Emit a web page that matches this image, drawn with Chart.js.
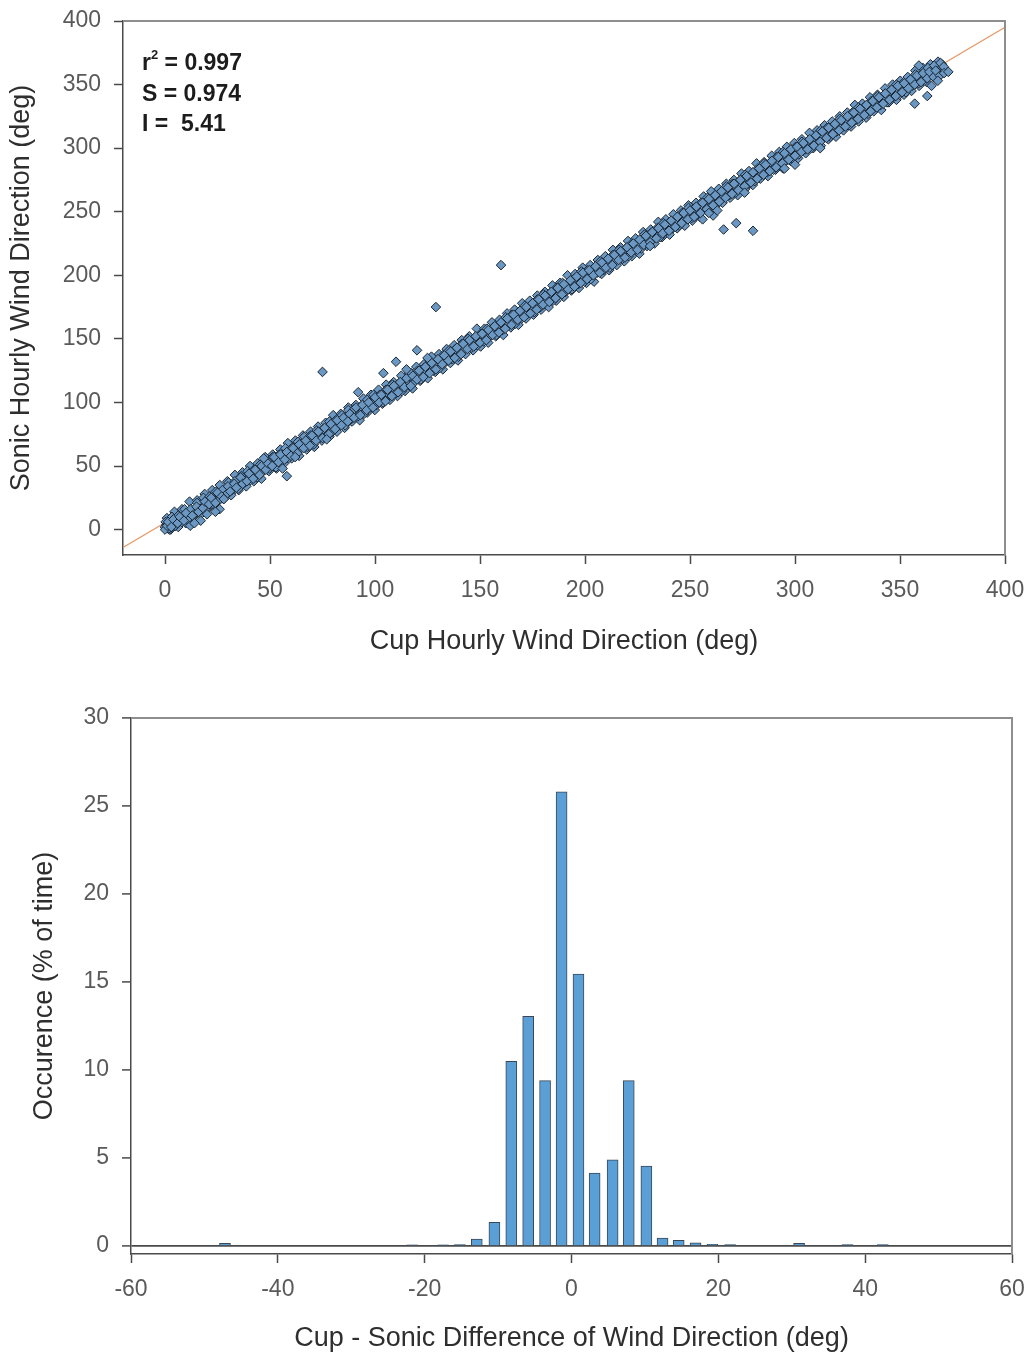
<!DOCTYPE html>
<html>
<head>
<meta charset="utf-8">
<script src="https://cdn.jsdelivr.net/npm/chart.js@4.4.1/dist/chart.umd.min.js"></script>
<style>
  html, body { margin: 0; padding: 0; background: #ffffff; }
  #wrap { position: relative; width: 1031px; height: 1355px; }
  #scatterCanvas { position: absolute; left: 0; top: 0; }
  #histCanvas { position: absolute; left: 0; top: 680px; }
</style>
</head>
<body>
<div id="wrap">
  <canvas id="scatterCanvas" width="1031" height="680"></canvas>
  <canvas id="histCanvas" width="1031" height="675"></canvas>
</div>
<script>
// ---- Hourly wind direction, cup vs sonic anemometer: [cup deg, sonic deg] ----
// hours at the outer edges of the band
const hourlyWide = [
  [0.9,9],[2.7,0],[4.5,14],[6.3,2],[8.1,16],[9.9,5],[11.7,22],[13.5,10],[15.3,23],[17.1,12],[18.9,28],[20.7,17],
  [22.5,31],[24.3,18],[26.1,35],[27.9,24],[29.7,38],[31.5,27],[33.3,43],[35.1,31],[36.9,45],[38.7,34],[40.5,50],
  [42.3,38],[44.1,52],[45.9,40],[47.7,57],[49.5,46],
  [51.3,59],[53.1,48],[54.9,63],[56.7,52],[58.5,68],[60.3,56],[62.1,70],[63.9,58],[65.7,74],[67.5,63],[69.3,77],
  [71.1,65],[72.9,81],[74.7,70],[76.5,84],[78.3,73],[80.1,90],[81.9,77],[83.7,91],[85.5,80],[87.3,96],[89.1,85],
  [90.9,98],[92.7,86],[94.5,103],[96.3,92],[98.1,106],[99.9,94],
  [101.7,110],[103.5,99],[105.3,114],[107.1,102],[108.9,116],[110.7,105],[112.5,121],[114.3,109],[116.1,123],
  [117.9,111],[119.7,128],[121.5,117],[123.3,130],[125.1,119],[126.9,136],[128.7,124],[130.5,138],[132.3,126],
  [134.1,142],[135.9,131],[137.7,145],[139.5,133],[141.3,149],[143.1,138],[144.9,152],[146.7,141],[148.5,158],
  [150.3,144],[152.1,158],[153.9,147],[155.7,163],[157.5,152],[159.3,165],[161.1,153],[162.9,170],[164.7,159],
  [166.5,173],[168.3,161],[170.1,178],[171.9,166],[173.7,180],[175.5,169],[177.3,184],[179.1,173],[180.9,187],
  [182.7,175],[184.5,192],[186.3,180],[188.1,194],[189.9,183],[191.7,200],[193.5,188],[195.3,201],[197.1,190],
  [198.9,206],
  [200.7,194],[202.5,208],[204.3,195],[206.1,212],[207.9,201],[209.7,215],[211.5,204],[213.3,220],[215.1,208],
  [216.9,222],[218.7,211],[220.5,227],[222.3,215],[224.1,229],[225.9,217],[227.7,234],[229.5,223],[231.3,236],
  [233.1,225],[234.9,242],[236.7,230],[238.5,244],[240.3,232],[242.1,248],[243.9,237],[245.7,251],[247.5,239],
  [249.3,255],
  [251.1,243],[252.9,257],[254.7,246],[256.5,262],[258.3,250],[260.1,266],[261.9,254],[263.7,268],[265.5,257],
  [267.3,272],[269.1,261],[270.9,275],[272.7,263],[274.5,280],[276.3,268],[278.1,282],[279.9,271],[281.7,288],
  [283.5,276],[285.3,289],[287.1,278],[288.9,294],[290.7,283],[292.5,297],[294.3,284],[296.1,301],[297.9,290],
  [299.7,304],
  [301.5,292],[303.3,307],[305.1,296],[306.9,312],[308.7,300],[310.5,314],[312.3,302],[314.1,318],[315.9,307],
  [317.7,321],[319.5,309],[321.3,325],[323.1,314],[324.9,328],[326.7,317],[328.5,334],[330.3,321],[332.1,335],
  [333.9,324],[335.7,340],[337.5,329],[339.3,342],[341.1,330],[342.9,347],[344.7,336],[346.5,350],[348.3,338],
  [350.1,353],[351.9,342],[353.7,356],[355.5,345],[357.3,361],[359.1,349],[360.9,363],[362.7,352],[364.5,366],
  [366.3,356],[368.1,368]
];

// core of the band
const hourlyCore = [
  [0.7,4],[2,0],[3.7,6],[5,3],[6.5,9],[8,6],[9.5,11],[11,8],[12.6,15],[14,12],[15.5,16],[17,19],[18.5,15],[20,23],
  [21.6,19],[23,26],[24.5,23],[26,27],[27.5,29],[29,27],[30.5,31],[32,35],[33.5,32],[35,38],[36.5,39],[38,37],
  [39.5,43],[41,41],[42.5,46],[44,43],[45.5,47],[47,50],[48.5,49],
  [50.5,54],[52,51],[53.5,56],[55,55],[56.5,59],[58,57],[59.5,62],[61,60],[62.5,65],[64,63],[65.5,68],[67,66],
  [68.5,71],[70,69],[71.5,74],[73,72],[74.5,77],[76,75],[77.5,80],[79,78],[80.5,83],[82,81],[83.5,86],[85,84],
  [86.5,89],[88,87],[89.5,92],[91,90],[92.5,95],[94,93],[95.5,98],[97,96],[98.5,101],
  [100.5,100],[102,104],[103.5,103],[105,107],[106.5,106],[108,110],[109.5,109],[111,113],[112.5,112],[114,116],
  [115.5,115],[117,119],[118.5,118],[120,122],[121.5,121],[123,125],[124.5,124],[126,128],[127.5,127],[129,131],
  [130.5,130],[132,134],[133.5,133],[135,137],[136.5,136],[138,140],[139.5,139],[141,143],[142.5,142],[144,146],
  [145.5,145],[147,149],[148.5,148],
  [150.5,151],[152,153],[153.5,152],[155,157],[156.5,155],[158,159],[159.5,158],[161,162],[162.5,161],[164,165],
  [165.5,164],[167,168],[168.5,167],[170,171],[171.5,170],[173,174],[174.5,173],[176,177],[177.5,176],[179,180],
  [180.5,179],[182,183],[183.5,182],[185,186],[186.5,185],[188,189],[189.5,188],[191,192],[192.5,191],[194,195],
  [195.5,194],[197,198],[198.5,197],
  [200.5,200],[202,201],[203.5,203],[205,204],[206.5,205],[208,207],[209.5,209],[211,210],[212.5,211],[214,213],
  [215.5,215],[217,216],[218.5,217],[220,219],[221.5,221],[223,222],[224.5,223],[226,225],[227.5,227],[229,228],
  [230.5,229],[232,231],[233.5,233],[235,234],[236.5,235],[238,237],[239.5,239],[241,240],[242.5,241],[244,243],
  [245.5,245],[247,246],[248.5,247],
  [250.5,248],[252,250],[253.5,252],[255,253],[256.5,254],[258,256],[259.5,258],[261,259],[262.5,260],[264,262],
  [265.5,264],[267,265],[268.5,266],[270,268],[271.5,270],[273,271],[274.5,272],[276,274],[277.5,276],[279,277],
  [280.5,278],[282,280],[283.5,282],[285,283],[286.5,284],[288,286],[289.5,288],[291,289],[292.5,290],[294,292],
  [295.5,294],[297,295],[298.5,296],
  [300.5,297],[302,299],[303.5,301],[305,302],[306.5,303],[308,305],[309.5,307],[311,308],[312.5,309],[314,311],
  [315.5,313],[317,314],[318.5,315],[320,317],[321.5,319],[323,320],[324.5,321],[326,323],[327.5,325],[329,326],
  [330.5,327],[332,329],[333.5,331],[335,332],[336.5,333],[338,335],[339.5,337],[341,338],[342.5,339],[344,341],
  [345.5,343],[347,344],[348.5,345],
  [350.5,347],[352,348],[353.5,349],[355,351],[356.5,353],[358,354],[359.5,355],[361,357],[362.5,358],[364,360],
  [365.5,362],[367,363],[368.5,364],[370,366]
];

// hours spread on both sides of the core
const hourlySpread = [
  [0.3,6],[1.8,1],[3.3,10],[4.8,3],[6.3,11],[7.8,8],[9.3,16],[10.8,8],[12.3,16],[13.8,12],[15.3,21],[16.8,16],
  [18.3,25],[19.8,17],[21.3,26],[22.8,23],[24.3,30],[25.8,23],[27.3,31],[28.8,27],[30.3,37],[31.8,31],[33.3,38],
  [34.8,32],[36.3,42],[37.8,38],[39.3,46],[40.8,39],[42.3,47],[43.8,41],[45.3,51],[46.8,46],[48.3,52],[49.8,48],
  [51.3,57],[52.8,49],[54.3,59],[55.8,54],[57.3,64],[58.8,56],[60.3,64],[61.8,58],[63.3,69],[64.8,64],[66.3,73],
  [67.8,65],[69.3,74],[70.8,67],[72.3,78],[73.8,72],[75.3,79],[76.8,73],[78.3,85],[79.8,77],[81.3,86],[82.8,82],
  [84.3,90],[85.8,82],[87.3,94],[88.8,87],[90.3,95],[91.8,89],[93.3,97],[94.8,91],[96.3,102],[97.8,96],[99.3,106],
  [100.8,98],[102.3,106],[103.8,100],[105.3,110],[106.8,106],[108.3,114],[109.8,107],[111.3,115],[112.8,109],
  [114.3,117],[115.8,114],[117.3,123],[118.8,116],[120.3,125],[121.8,118],[123.3,127],[124.8,124],[126.3,132],
  [127.8,125],[129.3,132],[130.8,127],[132.3,137],[133.8,132],[135.3,141],[136.8,134],[138.3,142],[139.8,136],
  [141.3,146],[142.8,142],[144.3,150],[145.8,143],[147.3,151],[148.8,145],
  [150.3,154],[151.8,148],[153.3,158],[154.8,152],[156.3,159],[157.8,153],[159.3,161],[160.8,157],[162.3,167],
  [163.8,162],[165.3,169],[166.8,162],[168.3,171],[169.8,166],[171.3,176],[172.8,170],[174.3,176],[175.8,171],
  [177.3,181],[178.8,175],[180.3,185],[181.8,180],[183.3,186],[184.8,180],[186.3,190],[187.8,185],[189.3,194],
  [190.8,187],[192.3,194],[193.8,189],[195.3,198],[196.8,193],[198.3,203],
  [199.8,195],[201.3,204],[202.8,197],[204.3,206],[205.8,202],[207.3,211],[208.8,204],[210.3,211],[211.8,206],
  [213.3,216],[214.8,212],[216.3,220],[217.8,213],[219.3,221],[220.8,215],[222.3,225],[223.8,220],[225.3,226],
  [226.8,221],[228.3,232],[229.8,225],[231.3,233],[232.8,230],[234.3,237],[235.8,230],[237.3,241],[238.8,235],
  [240.3,242],[241.8,237],[243.3,244],[244.8,239],[246.3,249],[247.8,244],[249.3,253],
  [250.8,245],[252.3,253],[253.8,247],[255.3,257],[256.8,253],[258.3,261],[259.8,254],[261.3,262],[262.8,256],
  [264.3,264],[265.8,261],[267.3,270],[268.8,263],[270.3,272],[271.8,265],[273.3,274],[274.8,271],[276.3,279],
  [277.8,272],[279.3,279],[280.8,274],[282.3,284],[283.8,279],[285.3,288],[286.8,281],[288.3,289],[289.8,283],
  [291.3,293],[292.8,289],[294.3,297],[295.8,290],[297.3,298],[298.8,292],
  [300.3,301],[301.8,295],[303.3,305],[304.8,299],[306.3,306],[307.8,300],[309.3,308],[310.8,304],[312.3,314],
  [313.8,309],[315.3,316],[316.8,309],[318.3,318],[319.8,313],[321.3,323],[322.8,317],[324.3,323],[325.8,318],
  [327.3,328],[328.8,322],[330.3,332],[331.8,327],[333.3,333],[334.8,327],[336.3,337],[337.8,332],[339.3,341],
  [340.8,334],[342.3,341],[343.8,336],[345.3,345],[346.8,340],[348.3,350],
  [349.8,342],[351.3,351],[352.8,344],[354.3,353],[355.8,349],[357.3,358],[358.8,351],[360.3,358],[361.8,353],
  [363.3,363],[364.8,358],[366.3,365],[367.8,360],[369.3,367],[370.8,364]
];

// alternating hours along the band, plus hours just off it
const hourlyEdge = [
  [0,2],[0,0],[1,3],[1.5,6],[3,2],[4,8],[6,5],[7,10],[9,7],[10,13],[12,3],[13,11],[15,18],[16,14],[18,17],[19,22],
  [21,20],[22,25],[24,21],[25,29],[27,26],[28,24],[30,34],[31,30],[33,36],[34,33],[36,41],[37,36],[39,38],[40,44],
  [42,40],[43,47],[45,43],[46,50],[48,47],[49,52],[17,7],[26,16],[14,5],[20,12],[24,14],
  [51,50],[52,57],[54,53],[55,59],[57,55],[58,61],[60,58],[61,64],[63,60],[64,67],[66,64],[67,70],[69,66],[70,74],
  [72,70],[73,77],[75,72],[76,80],[78,75],[79,83],[81,79],[82,86],[84,82],[85,88],[87,85],[88,91],[90,88],[91,96],
  [93,90],[94,98],[96,94],[97,100],[99,96],[58,42],[77,71],[62,57],[56,48],[47,56],
  [100,104],[102,100],[103,106],[105,101],[106,110],[108,105],[109,113],[111,108],[112,116],[114,112],[115,119],
  [117,113],[118,121],[120,118],[121,125],[123,120],[124,128],[126,123],[127,131],[129,126],[130,134],[132,130],
  [133,137],[135,133],[136,140],[138,135],[139,143],[141,138],[142,146],[144,142],[145,149],[147,144],[148,152],
  [150,147],[115,126],[125,135],
  [151,154],[153,149],[154,157],[156,153],[157,160],[159,155],[160,163],[162,158],[163,166],[165,161],[166,169],
  [168,165],[169,172],[171,167],[172,175],[174,170],[175,178],[177,173],[178,181],[180,177],[181,184],[183,179],
  [184,187],[186,182],[187,190],[189,185],[190,193],[192,189],[193,196],[195,191],[196,199],[198,194],[199,202],
  [201,197],[202,204],[204,200],[205,207],[207,202],[208,210],[210,206],[211,213],[213,208],[214,216],[216,212],
  [217,219],[219,214],[220,222],[222,218],[223,225],[225,220],[226,228],[228,224],[229,231],[231,226],[232,234],
  [234,229],[235,237],[237,233],[238,240],[240,235],[241,243],[243,238],[244,246],[246,241],[247,249],[249,244],
  [231,223],[256,244],[261,247],
  [250,251],[252,246],[253,254],[255,249],[256,257],[258,252],[259,260],[261,255],[262,263],[264,258],[265,266],
  [267,261],[268,269],[270,264],[271,272],[273,267],[274,275],[276,270],[277,278],[279,273],[280,281],[282,276],
  [283,284],[285,279],[286,287],[288,282],[289,290],[291,285],[292,293],[294,288],[295,296],[297,291],[298,299],
  [259,249],[266,236],[272,241],[280,235],[263,251],[276,265],
  [300,294],[301,301],[303,297],[304,304],[306,299],[307,307],[309,302],[310,310],[312,305],[313,313],[315,308],
  [316,316],[318,311],[319,319],[321,314],[322,322],[324,317],[325,325],[327,320],[328,328],[330,323],[331,331],
  [333,326],[334,334],[336,329],[337,337],[339,332],[340,340],[342,335],[343,343],[345,338],[346,346],[348,341],
  [349,349],[300,287],[312,300],[295,284],
  [351,344],[352,351],[354,347],[355,354],[357,350],[358,357],[360,352],[361,359],[363,355],[364,360],[366,356],
  [367,361],[369,357],[371,359],[373,360],[359,365],[357,335],[363,341],[365,349],[368,353]
];

// isolated hours far from the 1:1 band
const hourlyOutliers = [[75,124],[92,108],[104,123],[110,132],[120,141],[129,175],[160,208]];

// regression statistics of sonic on cup
const rSquared = 0.997;
const slope = 0.974;
const intercept = 5.41;

// ---- Frequency of cup - sonic direction difference (% of hours) ----
const diffBins   = [-47.2, -21.7, -17.5, -15.2, -12.9, -10.5, -8.2, -5.9, -3.6, -1.35, 0.95, 3.15, 5.6, 7.8, 10.2, 12.4, 14.6, 16.9, 19.2, 21.6, 31.0, 37.6, 42.4];
const occurrence = [ 0.15,  0.07,  0.07,  0.08,  0.4,   1.35, 10.5, 13.05, 9.4, 25.8,  15.45, 4.15, 4.9, 9.4, 4.55, 0.45, 0.32, 0.18, 0.1,  0.08, 0.15, 0.08, 0.08];

const scatterTicks = { min: -20, max: 400, step: 50 };
const histXTicks = { min: -60, max: 60, step: 20 };
const histYTicks = { min: -0.45, max: 30, step: 5 };

const FONT = '"Liberation Sans", Arial, Helvetica, sans-serif';
Chart.defaults.font.family = FONT;

const TICK_COLOR = '#5a5a5a';
const AXIS_COLOR = '#4a4a4a';
const TITLE_COLOR = '#2e2e2e';

// top and right edges of the plot area
const framePlugin = {
  id: 'frame',
  afterDatasetsDraw(chart) {
    const { ctx, chartArea: a } = chart;
    ctx.save();
    ctx.strokeStyle = '#8e8e8e';
    ctx.lineWidth = 2;
    ctx.beginPath();
    ctx.moveTo(a.left, a.top);
    ctx.lineTo(a.right, a.top);
    ctx.lineTo(a.right, a.bottom);
    ctx.stroke();
    ctx.restore();
  }
};

// regression statistics in the upper-left corner
const statsPlugin = {
  id: 'stats',
  afterDraw(chart) {
    const ctx = chart.ctx;
    const big = 'bold 23px ' + FONT;
    const small = 'bold 13px ' + FONT;
    const x0 = 142;
    ctx.save();
    ctx.fillStyle = '#1c1c1c';
    ctx.textBaseline = 'alphabetic';
    let x = x0;
    ctx.font = big;
    ctx.fillText('r', x, 70);
    x += ctx.measureText('r').width;
    ctx.font = small;
    ctx.fillText('2', x, 59);
    x += ctx.measureText('2').width;
    ctx.font = big;
    ctx.fillText(' = ' + rSquared.toFixed(3), x, 70);
    ctx.fillText('S = ' + slope.toFixed(3), x0, 101);
    ctx.fillText('I =  ' + intercept.toFixed(2), x0, 131);
    ctx.restore();
  }
};

function axisTitle(text, padding) {
  return { display: true, text, color: TITLE_COLOR, font: { size: 27 }, padding };
}

// fixed axis box sizes so the plot areas sit where they should
function fixHeight(h) {
  return s => { s.height = h; s.paddingLeft = 0; s.paddingRight = 0; s.paddingTop = 0; s.paddingBottom = 0; };
}
function fixWidth(w) {
  return s => { s.width = w; s.paddingLeft = 0; s.paddingRight = 0; s.paddingTop = 0; s.paddingBottom = 0; };
}

const fitLine = [scatterTicks.min, scatterTicks.max].map(x => ({ x, y: slope * x + intercept }));
const hourlyPairs = hourlyWide.concat(hourlyCore, hourlySpread, hourlyEdge, hourlyOutliers);

new Chart(document.getElementById('scatterCanvas'), {
  type: 'scatter',
  data: {
    datasets: [
      {
        data: hourlyPairs.map(([x, y]) => ({ x, y })),
        pointStyle: 'rectRot',
        pointRadius: 4.8,
        backgroundColor: '#6a98c3',
        borderColor: '#1b2633',
        borderWidth: 1
      },
      {
        type: 'line',
        data: fitLine,
        borderColor: '#e59b6b',
        borderWidth: 1.3,
        pointRadius: 0,
        fill: false
      }
    ]
  },
  options: {
    responsive: false,
    animation: false,
    events: [],
    layout: { padding: { top: 21, right: 26, left: 0, bottom: 0 } },
    plugins: { legend: { display: false }, tooltip: { enabled: false } },
    scales: {
      x: {
        type: 'linear',
        min: scatterTicks.min, max: scatterTicks.max,
        ticks: { stepSize: scatterTicks.step, includeBounds: false, color: TICK_COLOR, font: { size: 23 }, padding: 13, maxRotation: 0 },
        grid: { drawOnChartArea: false, tickLength: 9, tickColor: AXIS_COLOR, tickWidth: 1.5 },
        border: { color: AXIS_COLOR, width: 1.5 },
        title: axisTitle('Cup Hourly Wind Direction (deg)', { top: 0, bottom: 22 }),
        afterFit: fixHeight(125)
      },
      y: {
        type: 'linear',
        min: scatterTicks.min, max: scatterTicks.max,
        ticks: { stepSize: scatterTicks.step, includeBounds: false, color: TICK_COLOR, font: { size: 23 }, padding: 13 },
        grid: { drawOnChartArea: false, tickLength: 9, tickColor: AXIS_COLOR, tickWidth: 1.5 },
        border: { color: AXIS_COLOR, width: 1.5 },
        title: axisTitle('Sonic Hourly Wind Direction (deg)', { top: 5, bottom: 0 }),
        afterFit: fixWidth(123)
      }
    }
  },
  plugins: [framePlugin, statsPlugin]
});

new Chart(document.getElementById('histCanvas'), {
  type: 'bar',
  data: {
    datasets: [{
      data: diffBins.map((x, i) => ({ x, y: occurrence[i] })),
      backgroundColor: '#5b9fd7',
      borderColor: '#3a4856',
      borderWidth: 1,
      barThickness: 11
    }]
  },
  options: {
    responsive: false,
    animation: false,
    events: [],
    layout: { padding: { top: 38, right: 19, left: 0, bottom: 0 } },
    plugins: { legend: { display: false }, tooltip: { enabled: false } },
    scales: {
      x: {
        type: 'linear',
        offset: false,
        min: histXTicks.min, max: histXTicks.max,
        ticks: { stepSize: histXTicks.step, color: TICK_COLOR, font: { size: 23 }, padding: 13, maxRotation: 0 },
        grid: { offset: false, drawOnChartArea: false, tickLength: 9, tickColor: AXIS_COLOR, tickWidth: 1.5 },
        border: { color: AXIS_COLOR, width: 1.5 },
        title: axisTitle('Cup - Sonic Difference of Wind Direction (deg)', { top: 0, bottom: 0 }),
        afterFit: fixHeight(101)
      },
      y: {
        type: 'linear',
        min: histYTicks.min, max: histYTicks.max,
        ticks: { stepSize: histYTicks.step, includeBounds: false, color: TICK_COLOR, font: { size: 23 }, padding: 13 },
        grid: {
          drawOnChartArea: true,
          color: c => (c.tick && c.tick.value === 0 ? AXIS_COLOR : 'rgba(0,0,0,0)'),
          lineWidth: 1.8,
          tickLength: 9, tickColor: AXIS_COLOR, tickWidth: 1.5
        },
        border: { color: AXIS_COLOR, width: 1.5 },
        title: axisTitle('Occurence (% of time)', { top: 28, bottom: 0 }),
        afterFit: fixWidth(131)
      }
    }
  },
  plugins: [framePlugin]
});
</script>
</body>
</html>
